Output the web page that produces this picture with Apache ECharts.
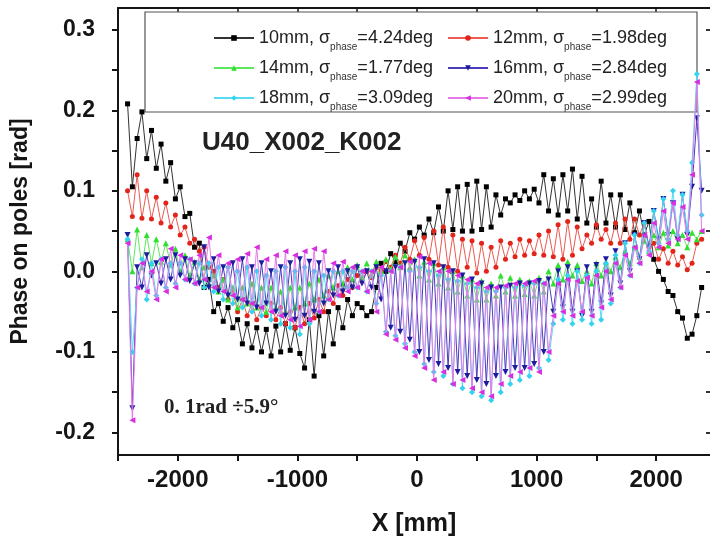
<!DOCTYPE html>
<html>
<head>
<meta charset="utf-8">
<script src="https://cdn.jsdelivr.net/npm/echarts@6/dist/echarts.min.js"></script>
<style>
  html, body { margin: 0; padding: 0; background: #fff; }
  #chart { width: 710px; height: 545px; }
</style>
</head>
<body>
<div id="chart"></div>
<script>
// pole positions along the undulator (mm)
const xPos = [
  -2420, -2380, -2340, -2300, -2260, -2220, -2180, -2140, -2100, -2060,
  -2020, -1980, -1940, -1900, -1860, -1820, -1780, -1740, -1700, -1660,
  -1620, -1580, -1540, -1500, -1460, -1420, -1380, -1340, -1300, -1260,
  -1220, -1180, -1140, -1100, -1060, -1020, -980, -940, -900, -860,
  -820, -780, -740, -700, -660, -620, -580, -540, -500, -460,
  -420, -380, -340, -300, -260, -220, -180, -140, -100, -60,
  -20, 20, 60, 100, 140, 180, 220, 260, 300, 340,
  380, 420, 460, 500, 540, 580, 620, 660, 700, 740,
  780, 820, 860, 900, 940, 980, 1020, 1060, 1100, 1140,
  1180, 1220, 1260, 1300, 1340, 1380, 1420, 1460, 1500, 1540,
  1580, 1620, 1660, 1700, 1740, 1780, 1820, 1860, 1900, 1940,
  1980, 2020, 2060, 2100, 2140, 2180, 2220, 2260, 2300, 2340,
  2380
];

// phase on poles (rad) per gap
const gap10 = [
  0.208, 0.105, 0.165, 0.198, 0.14, 0.175, 0.128, 0.158, 0.112, 0.135,
  0.09, 0.105, 0.068, 0.072, 0.03, 0.035, -0.02, -0.01, -0.05, -0.04,
  -0.062, -0.045, -0.07, -0.06, -0.09, -0.065, -0.095, -0.07, -0.1, -0.072,
  -0.105, -0.068, -0.1, -0.065, -0.098, -0.07, -0.102, -0.12, -0.06, -0.13,
  -0.055, -0.105, -0.05, -0.09, -0.045, -0.07, -0.035, -0.055, -0.04, -0.045,
  -0.055, -0.05, -0.02, 0.01, 0.0, 0.022, 0.012, 0.035, 0.025, 0.048,
  0.04, 0.055, 0.045, 0.065, 0.048, 0.08, 0.05, 0.1, 0.052, 0.105,
  0.05, 0.108, 0.05, 0.112, 0.052, 0.105, 0.055, 0.095, 0.07, 0.09,
  0.085, 0.095, 0.088, 0.1, 0.09, 0.102, 0.085, 0.12, 0.075, 0.115,
  0.07, 0.12, 0.075, 0.127, 0.065, 0.118, 0.06, 0.09, 0.055, 0.112,
  0.06, 0.095, 0.055, 0.095, 0.052, 0.085, 0.048, 0.075, 0.045, 0.062,
  0.015, 0.0, -0.01, -0.025, -0.03, -0.05, -0.058, -0.083, -0.078, -0.055,
  -0.02
];
const gap12 = [
  0.1, 0.068, 0.12, 0.066, 0.1, 0.065, 0.092, 0.06, 0.085, 0.055,
  0.07, 0.045, 0.055, 0.035, 0.04, 0.025, 0.03, 0.005, 0.0, -0.02,
  -0.01, -0.035, -0.025, -0.05, -0.035, -0.055, -0.04, -0.06, -0.045, -0.055,
  -0.04, -0.06, -0.045, -0.065, -0.05, -0.07, -0.045, -0.065, -0.04, -0.058,
  -0.035, -0.05, -0.025, -0.04, -0.018, -0.03, -0.01, -0.02, -0.005, -0.012,
  0.0, -0.008, 0.005, 0.0, 0.012, 0.005, 0.02, 0.01, 0.03, 0.015,
  0.038, 0.02, 0.042, 0.015, 0.05, 0.008, 0.055, 0.005, 0.045, 0.0,
  0.04, 0.005, 0.038, -0.002, 0.035, 0.0, 0.03, 0.005, 0.038, 0.015,
  0.035, 0.018, 0.04, 0.02, 0.038, 0.022, 0.045, 0.02, 0.05, 0.018,
  0.058, 0.015, 0.062, 0.02, 0.055, 0.028, 0.045, 0.035, 0.058, 0.04,
  0.052, 0.035, 0.06, 0.035, 0.065, 0.04, 0.065, 0.045, 0.06, 0.03,
  0.035, 0.015, 0.028, 0.01, 0.025, 0.008, 0.018, 0.002, 0.01, 0.035,
  0.04
];
const gap14 = [
  0.04, 0.0, 0.052, 0.005, 0.045, 0.01, 0.04, 0.012, 0.035, 0.008,
  0.028, 0.0, 0.02, -0.005, 0.012, -0.01, 0.005, -0.015, -0.005, -0.025,
  -0.01, -0.035, -0.02, -0.045, -0.02, -0.04, -0.015, -0.045, -0.02, -0.05,
  -0.02, -0.045, -0.025, -0.05, -0.02, -0.045, -0.02, -0.04, -0.015, -0.035,
  -0.01, -0.03, -0.005, -0.02, 0.0, -0.015, 0.005, -0.01, 0.008, -0.008,
  0.01, -0.005, 0.012, 0.0, 0.015, 0.002, 0.018, 0.005, 0.02, 0.005,
  0.015, -0.005, 0.012, -0.01, 0.01, -0.015, 0.005, -0.02, 0.0, -0.025,
  -0.005, -0.03, -0.01, -0.035, -0.012, -0.035, -0.015, -0.03, -0.005, -0.025,
  -0.008, -0.03, -0.01, -0.028, -0.012, -0.03, -0.008, -0.025, 0.0, -0.015,
  0.008, -0.01, 0.012, -0.005, 0.008, -0.012, 0.0, -0.015, 0.01, -0.005,
  0.012, 0.0, 0.018, 0.005, 0.025, 0.01, 0.03, 0.018, 0.038, 0.025,
  0.045, 0.03, 0.048, 0.032, 0.05, 0.035, 0.045, 0.03, 0.048, 0.04,
  0.05
];
const gap16 = [
  0.045, -0.17, 0.005, -0.02, 0.02, -0.005, 0.01, -0.015, 0.015, -0.01,
  0.02, -0.005, 0.015, -0.012, 0.01, -0.015, 0.03, -0.02, 0.015, -0.025,
  0.005, -0.03, 0.01, -0.035, 0.015, -0.04, 0.005, -0.045, 0.01, -0.04,
  0.0, -0.05, 0.005, -0.055, 0.01, -0.06, 0.015, -0.055, 0.012, -0.05,
  0.01, -0.04, 0.0, -0.03, 0.005, -0.025, 0.0, -0.02, 0.005, -0.015,
  0.0, -0.02, 0.005, -0.035, 0.0, -0.07, 0.005, -0.075, 0.01, -0.085,
  0.012, -0.1, 0.015, -0.11, 0.01, -0.115, 0.005, -0.12, 0.0, -0.125,
  -0.005, -0.13, -0.01, -0.135, -0.015, -0.14, -0.02, -0.13, -0.02, -0.125,
  -0.018, -0.12, -0.015, -0.12, -0.015, -0.115, -0.012, -0.1, -0.01, -0.05,
  0.0, -0.045, 0.005, -0.05, 0.0, -0.055, 0.005, -0.05, 0.008, -0.04,
  0.015, -0.03, 0.025, -0.015, 0.035, 0.0, 0.045, 0.015, 0.06, 0.03,
  0.075, 0.04, 0.09, 0.045, 0.085, 0.04, 0.095, 0.045, 0.105, 0.19,
  0.1
];
const gap18 = [
  0.04, -0.1, -0.02, 0.015, -0.035, 0.01, -0.03, 0.015, -0.02, 0.01,
  -0.015, 0.01, -0.01, 0.015, -0.015, 0.01, -0.02, 0.01, -0.025, 0.005,
  -0.035, 0.005, -0.04, 0.0, -0.045, 0.005, -0.05, 0.0, -0.055, -0.005,
  -0.06, 0.0, -0.065, 0.005, -0.07, 0.0, -0.078, 0.005, -0.065, 0.0,
  -0.05, -0.005, -0.035, 0.0, -0.03, 0.0, -0.02, 0.0, -0.02, 0.0,
  -0.025, 0.0, -0.04, -0.005, -0.075, 0.0, -0.08, 0.005, -0.09, 0.0,
  -0.1, 0.005, -0.115, 0.0, -0.125, -0.005, -0.13, -0.01, -0.14, -0.012,
  -0.145, -0.015, -0.15, -0.02, -0.155, -0.025, -0.16, -0.025, -0.15, -0.02,
  -0.14, -0.02, -0.135, -0.018, -0.13, -0.015, -0.12, -0.015, -0.11, -0.065,
  -0.01, -0.06, -0.005, -0.065, 0.0, -0.06, -0.005, -0.065, 0.0, -0.06,
  0.01, -0.04, 0.02, -0.02, 0.035, -0.005, 0.045, 0.01, 0.06, 0.025,
  0.075, 0.035, 0.09, 0.04, 0.1, 0.045, 0.095, 0.05, 0.135, 0.245,
  0.07
];
const gap20 = [
  0.035, -0.185, -0.02, 0.01, -0.025, 0.0, -0.035, 0.015, -0.025, 0.028,
  -0.02, 0.02, -0.01, 0.015, -0.015, 0.02, -0.01, 0.042, -0.02, 0.02,
  -0.025, 0.01, -0.03, 0.015, -0.035, 0.022, -0.04, 0.03, -0.045, 0.015,
  -0.05, 0.02, -0.055, 0.025, -0.06, 0.02, -0.068, 0.025, -0.06, 0.028,
  -0.05, 0.025, -0.035, 0.01, -0.03, 0.012, -0.025, 0.005, -0.02, 0.0,
  -0.025, 0.0, -0.05, 0.005, -0.078, 0.0, -0.085, 0.005, -0.095, 0.012,
  -0.105, 0.018, -0.12, 0.01, -0.135, 0.0, -0.125, 0.0, -0.14, -0.005,
  -0.135, -0.01, -0.145, -0.015, -0.15, -0.02, -0.155, -0.02, -0.14, -0.018,
  -0.13, -0.015, -0.125, -0.015, -0.12, -0.012, -0.125, -0.015, -0.1, -0.055,
  -0.015, -0.05, -0.01, -0.055, -0.012, -0.05, -0.008, -0.055, -0.005, -0.045,
  0.0, -0.035, 0.01, -0.02, 0.02, -0.005, 0.03, 0.01, 0.045, 0.02,
  0.06, 0.03, 0.075, 0.035, 0.085, 0.04, 0.08, 0.04, 0.12, 0.235,
  0.05
];

const gapNames = ['10mm', '12mm', '14mm', '16mm', '18mm', '20mm'];
const sigmaDeg = ['4.24', '1.98', '1.77', '2.84', '3.09', '2.99'];

// axis ticks / labels
const xLabelVals = [-2000, -1000, 0, 1000, 2000];
const xTickVals = [-2500, -2000, -1500, -1000, -500, 0, 500, 1000, 1500, 2000];
const yLabelVals = [-0.2, -0.1, 0, 0.1, 0.2, 0.3];
const yTickVals = [-0.2, -0.15, -0.1, -0.05, 0, 0.05, 0.1, 0.15, 0.2, 0.25, 0.3];

const FONT = '"Liberation Sans", Arial, sans-serif';
const INK = '#151515';

const styles = [
  { data: gap10, color: '#000000', line: '#333333', symbol: 'rect', size: 5, rotate: 0 },
  { data: gap12, color: '#e3241b', line: '#ec5a52', symbol: 'circle', size: 5, rotate: 0 },
  { data: gap14, color: '#2fe02f', line: '#5ee85e', symbol: 'triangle', size: 6, rotate: 0 },
  { data: gap16, color: '#1c1c9e', line: '#4a3cb8', symbol: 'triangle', size: 6, rotate: 180 },
  { data: gap18, color: '#33d3f0', line: '#55dcf3', symbol: 'diamond', size: 6, rotate: 0 },
  { data: gap20, color: '#d92ee0', line: '#e77ae9', symbol: 'triangle', size: 6, rotate: 90 }
];

const series = styles.map((s, i) => ({
  name: gapNames[i],
  type: 'line',
  data: xPos.map((x, k) => [x, s.data[k]]),
  symbol: s.symbol,
  symbolSize: s.size,
  symbolRotate: s.rotate,
  showAllSymbol: true,
  itemStyle: { color: s.color },
  lineStyle: { color: s.line, width: 1 },
  xAxisIndex: 0,
  yAxisIndex: 0,
  z: 2 + i
}));

const legendFmt = name => {
  const sig = sigmaDeg[gapNames.indexOf(name)];
  return '{t|' + name + ', σ}{s|phase}{t|=' + sig + 'deg}';
};
const legendText = {
  fontFamily: FONT,
  fontSize: 18,
  color: '#222',
  rich: {
    t: { fontFamily: FONT, fontSize: 18, lineHeight: 28, color: '#222' },
    s: { fontFamily: FONT, fontSize: 10, lineHeight: 28, verticalAlign: 'bottom', color: '#333' }
  }
};
const legendBase = {
  orient: 'vertical',
  top: 29,
  itemWidth: 40,
  itemHeight: 7,
  itemGap: 7,
  padding: 0,
  formatter: legendFmt,
  textStyle: legendText
};

const axisLine = { show: true, onZero: false, lineStyle: { color: INK, width: 2 } };

const chart = echarts.init(document.getElementById('chart'));
chart.setOption({
  animation: false,
  backgroundColor: '#fff',
  grid: { left: 118, right: 0, top: 8, bottom: 90, containLabel: false },
  legend: [
    Object.assign({}, legendBase, { left: 213, data: ['10mm', '14mm', '18mm'] }),
    Object.assign({}, legendBase, { left: 447, data: ['12mm', '16mm', '20mm'] })
  ],
  xAxis: [
    {
      type: 'value', position: 'bottom', min: -2500, max: 2450,
      axisLine: axisLine,
      axisTick: { show: true, inside: false, length: 6, customValues: xTickVals, lineStyle: { color: INK, width: 2 } },
      axisLabel: {
        customValues: xLabelVals, margin: 13, fontSize: 24, fontWeight: 'bold', fontFamily: FONT, color: INK,
        formatter: v => String(v)
      },
      splitLine: { show: false },
      name: 'X [mm]', nameLocation: 'middle', nameGap: 57,
      nameTextStyle: { fontSize: 25, fontWeight: 'bold', fontFamily: FONT, color: INK }
    },
    {
      type: 'value', position: 'top', min: -2500, max: 2450,
      axisLine: axisLine,
      axisTick: { show: true, inside: true, length: 5, customValues: xTickVals.slice(1), lineStyle: { color: INK, width: 1.5 } },
      axisLabel: { show: false },
      splitLine: { show: false }
    }
  ],
  yAxis: [
    {
      type: 'value', position: 'left', min: -0.228, max: 0.327,
      axisLine: axisLine,
      axisTick: { show: true, inside: false, length: 6, customValues: yTickVals, lineStyle: { color: INK, width: 2 } },
      axisLabel: {
        customValues: yLabelVals, margin: 23, fontSize: 23, fontWeight: 'bold', fontFamily: FONT, color: INK,
        formatter: v => v.toFixed(1)
      },
      splitLine: { show: false },
      name: 'Phase on poles [rad]', nameLocation: 'middle', nameGap: 86, nameRotate: 90,
      nameTextStyle: { fontSize: 23, fontWeight: 'bold', fontFamily: FONT, color: INK }
    },
    {
      type: 'value', position: 'right', min: -0.228, max: 0.327,
      axisLine: { show: false, onZero: false },
      axisTick: { show: true, inside: true, length: 4, customValues: yTickVals, lineStyle: { color: '#333', width: 2 } },
      axisLabel: { show: false },
      splitLine: { show: false }
    }
  ],
  graphic: [
    {
      type: 'rect', z: 1,
      shape: { x: 145, y: 12, width: 552, height: 100 },
      style: { fill: '#fff', stroke: '#555', lineWidth: 1.2 }
    },
    {
      type: 'text', left: 202, top: 130, z: 20,
      style: { text: 'U40_X002_K002', font: 'bold 26px ' + FONT, fill: '#222' }
    },
    {
      type: 'text', left: 164, top: 397, z: 20,
      style: { text: '0. 1rad ÷5.9°', font: 'bold 21px "Liberation Serif", "DejaVu Serif", serif', fill: '#222' }
    }
  ],
  series: series
});
</script>
</body>
</html>
